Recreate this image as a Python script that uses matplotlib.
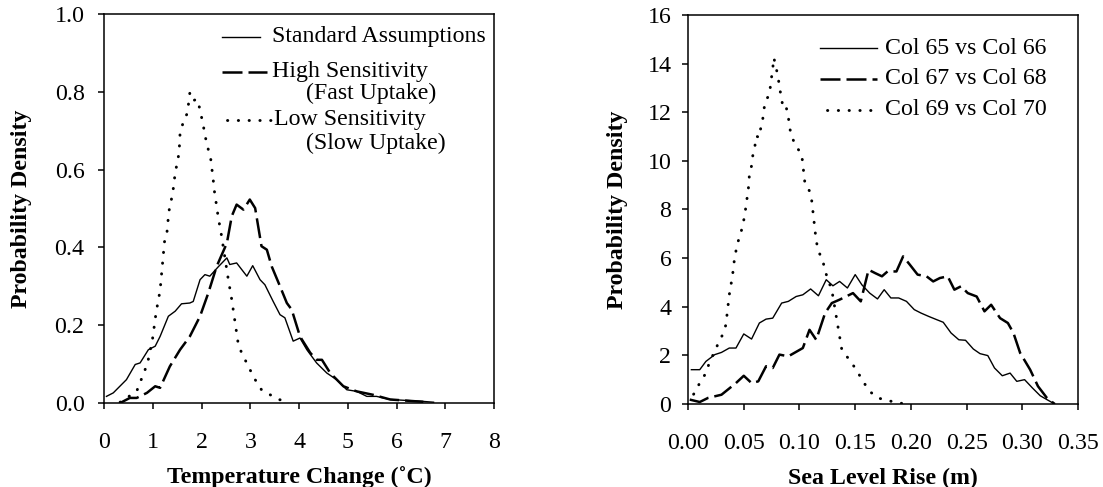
import numpy as np
import matplotlib
matplotlib.use('Agg')
import matplotlib.pyplot as plt

plt.rcParams['font.family'] = ['Liberation Serif', 'DejaVu Serif']

# ---- left panel: temperature change (deg C) ----
std_t = [0.05, 0.19, 0.46, 0.64, 0.74, 0.91, 1.05, 1.15, 1.32, 1.46, 1.59, 1.76, 1.83, 1.97, 2.07,
         2.17, 2.35, 2.52, 2.58, 2.72, 2.93, 3.05, 3.20, 3.30, 3.47, 3.61, 3.71, 3.88, 4.02, 4.16,
         4.36, 4.57, 4.77, 4.98, 5.18, 5.39, 5.59, 5.87, 6.55, 6.76]
std_p = [0.017, 0.026, 0.060, 0.099, 0.103, 0.137, 0.146, 0.171, 0.223, 0.236, 0.255, 0.257, 0.261,
         0.317, 0.330, 0.326, 0.351, 0.373, 0.356, 0.360, 0.326, 0.353, 0.317, 0.304, 0.261, 0.227,
         0.219, 0.159, 0.167, 0.137, 0.103, 0.077, 0.060, 0.034, 0.030, 0.017, 0.017, 0.009, 0.004,
         0.002]

high_t = [0.33, 0.53, 0.67, 0.88, 1.05, 1.15, 1.35, 1.56, 1.76, 1.97, 2.14, 2.31, 2.52, 2.62, 2.72,
          2.86, 2.99, 3.10, 3.23, 3.34, 3.44, 3.61, 3.75, 3.85, 4.02, 4.23, 4.36, 4.47, 4.64, 4.91,
          5.18, 5.52, 5.87, 6.55]
high_p = [0.0, 0.013, 0.013, 0.026, 0.043, 0.039, 0.094, 0.137, 0.171, 0.223, 0.283, 0.351, 0.411,
          0.480, 0.510, 0.497, 0.523, 0.501, 0.403, 0.394, 0.351, 0.300, 0.257, 0.240, 0.171, 0.129,
          0.111, 0.111, 0.077, 0.043, 0.030, 0.021, 0.009, 0.003]

low_t = [0.33, 0.67, 0.75, 0.83, 0.90, 0.99, 1.07, 1.15, 1.24, 1.29, 1.33, 1.41, 1.46, 1.50, 1.54,
         1.56, 1.64, 1.71, 1.76, 1.82, 1.91, 1.97, 2.05, 2.09, 2.14, 2.19, 2.24, 2.26, 2.31, 2.35,
         2.39, 2.55, 2.62, 2.65, 2.76, 2.86, 2.96, 3.10, 3.23, 3.41, 3.58, 3.78]
low_p = [0.002, 0.030, 0.056, 0.081, 0.107, 0.160, 0.234, 0.289, 0.414, 0.437, 0.492, 0.540, 0.591,
         0.617, 0.643, 0.694, 0.728, 0.745, 0.797, 0.777, 0.781, 0.754, 0.704, 0.677, 0.651, 0.626,
         0.574, 0.548, 0.506, 0.471, 0.446, 0.317, 0.266, 0.240, 0.146, 0.120, 0.094, 0.060, 0.034,
         0.021, 0.009, 0.004]

# ---- right panel: sea level rise (m) ----
c65_s = [0.003, 0.0105, 0.016, 0.024, 0.030, 0.037, 0.043, 0.050, 0.057, 0.064, 0.070, 0.076, 0.084,
         0.090, 0.097, 0.103, 0.110, 0.117, 0.124, 0.130, 0.136, 0.143, 0.150, 0.156, 0.163, 0.170,
         0.176, 0.182, 0.189, 0.196, 0.203, 0.209, 0.216, 0.223, 0.229, 0.236, 0.243, 0.249, 0.256,
         0.262, 0.269, 0.275, 0.282, 0.289, 0.295, 0.302, 0.309, 0.316, 0.322, 0.329]
c65_p = [1.41, 1.41, 1.75, 2.03, 2.12, 2.30, 2.30, 2.88, 2.67, 3.33, 3.49, 3.53, 4.15, 4.22, 4.42,
         4.49, 4.73, 4.45, 5.11, 4.86, 5.04, 4.77, 5.32, 4.90, 4.56, 4.32, 4.70, 4.36, 4.36, 4.22,
         3.88, 3.74, 3.60, 3.47, 3.36, 2.92, 2.64, 2.62, 2.26, 2.07, 1.99, 1.48, 1.16, 1.27, 0.93,
         1.00, 0.66, 0.34, 0.18, 0.0]

c67_s = [0.0015, 0.0105, 0.018, 0.030, 0.043, 0.050, 0.057, 0.063, 0.070, 0.076, 0.082, 0.090, 0.103,
         0.109, 0.115, 0.123, 0.129, 0.136, 0.148, 0.155, 0.162, 0.168, 0.174, 0.179, 0.187, 0.193,
         0.199, 0.206, 0.214, 0.220, 0.226, 0.233, 0.239, 0.245, 0.251, 0.259, 0.266, 0.272, 0.280,
         0.287, 0.292, 0.298, 0.307, 0.314, 0.322, 0.329]
c67_p = [0.18, 0.08, 0.25, 0.38, 0.86, 1.16, 0.86, 0.93, 1.55, 1.48, 2.03, 1.96, 2.30, 3.05, 2.64,
         3.74, 4.15, 4.29, 4.56, 4.22, 5.52, 5.38, 5.25, 5.45, 5.45, 6.07, 5.73, 5.32, 5.25, 5.04,
         5.18, 5.25, 4.70, 4.84, 4.56, 4.42, 3.81, 4.08, 3.53, 3.33, 2.92, 2.10, 1.41, 0.73, 0.25, 0.0]

c69_s = [0.005, 0.010, 0.016, 0.019, 0.027, 0.031, 0.034, 0.035, 0.037, 0.040, 0.041, 0.044, 0.047,
         0.049, 0.051, 0.052, 0.054, 0.055, 0.057, 0.058, 0.060, 0.061, 0.064, 0.065, 0.067, 0.068,
         0.070, 0.073, 0.074, 0.076, 0.077, 0.079, 0.081, 0.082, 0.084, 0.085, 0.088, 0.090, 0.091,
         0.093, 0.097, 0.102, 0.103, 0.104, 0.105, 0.109, 0.111, 0.112, 0.114, 0.115, 0.117, 0.121,
         0.123, 0.126, 0.129, 0.132, 0.135, 0.138, 0.145, 0.151, 0.157, 0.163, 0.170, 0.179, 0.188,
         0.199]
c69_p = [0.40, 0.82, 1.27, 1.68, 2.48, 2.85, 3.26, 3.69, 4.49, 5.31, 5.75, 6.57, 6.95, 7.36, 7.77,
         8.18, 8.77, 9.39, 9.80, 10.19, 10.60, 11.02, 10.96, 11.29, 11.70, 12.11, 12.52, 12.70, 13.11,
         13.80, 14.24, 13.83, 13.41, 13.00, 12.59, 12.18, 12.22, 11.81, 11.40, 10.99, 10.60, 10.26,
         9.85, 9.44, 9.03, 8.76, 8.35, 7.94, 7.12, 6.71, 6.29, 5.88, 5.47, 5.06, 4.69, 3.87, 3.05,
         2.23, 1.80, 1.41, 0.93, 0.52, 0.25, 0.15, 0.04, 0.0]

left_labels = ['Standard Assumptions', 'High Sensitivity', 'Low Sensitivity']
left_sub = ['', '(Fast Uptake)', '(Slow Uptake)']
right_labels = ['Col 65 vs Col 66', 'Col 67 vs Col 68', 'Col 69 vs Col 70']

FS = 17.2
solid = dict(color='black', lw=1.0)
dashed = dict(color='black', lw=1.8, linestyle=(0, (8, 2.4)))
dotted = dict(color='black', lw=2.1, linestyle=(0, (0.1, 3.6)), dash_capstyle='round')
styles = [solid, dashed, dotted]

fig = plt.figure(figsize=(11.03, 4.87), dpi=100)
ax1 = fig.add_axes([0.0943, 0.1725, 0.3536, 0.7988])
ax2 = fig.add_axes([0.6238, 0.1705, 0.3536, 0.7988])

ax1.plot(std_t, std_p, **solid)
ax1.plot(high_t, high_p, **dashed)
ax1.plot(low_t, low_p, **dotted)

ax2.plot(c65_s, c65_p, **solid)
ax2.plot(c67_s, c67_p, **dashed)
ax2.plot(c69_s, c69_p, **dotted)

ax1.set_xlim(0, 8)
ax1.set_ylim(0, 1.0)
ax1.set_xticks(range(0, 9))
ax1.set_yticks(np.arange(0, 1.01, 0.2))
ax1.set_yticklabels(['%.1f' % v for v in np.arange(0, 1.01, 0.2)])

ax2.set_xlim(0, 0.35)
ax2.set_ylim(0, 16)
ax2.set_xticks(np.arange(0, 0.351, 0.05))
ax2.set_xticklabels(['%.2f' % v for v in np.arange(0, 0.351, 0.05)])
ax2.set_yticks(range(0, 17, 2))

for ax in (ax1, ax2):
    for sp in ax.spines.values():
        sp.set_linewidth(1.1)
    ax.tick_params(axis='both', direction='out', length=4, width=1.1, labelsize=FS)
    ax.tick_params(axis='x', pad=17)
    ax.set_ylabel('Probability Density', fontsize=FS, fontweight='bold')

ax1.tick_params(axis='y', pad=10)
ax2.tick_params(axis='y', pad=8)

ax1.set_xlabel('Temperature Change (\u02daC)', fontsize=FS, fontweight='bold')
ax2.set_xlabel('Sea Level Rise (m)', fontsize=FS, fontweight='bold')
ax1.xaxis.set_label_coords(0.5, -0.163)
ax2.xaxis.set_label_coords(0.5, -0.163)
ax1.yaxis.set_label_coords(-0.185, 0.5)
ax2.yaxis.set_label_coords(-0.154, 0.5)

# legends laid out by hand (handle sits on the first line of each entry, as in the original)
tr = ax1.transAxes
left_rows = [0.9416, 0.8517, 0.7275]
left_sub_rows = [None, 0.797, 0.668]
left_handle_x = [(0.3026, 0.40), (0.3018, 0.417), (0.3146, 0.430)]
left_text_x = [0.430, 0.430, 0.436]
for i in range(3):
    ax1.plot(left_handle_x[i], [left_rows[i]] * 2, transform=tr, clip_on=False, **styles[i])
    ax1.text(left_text_x[i], left_rows[i], left_labels[i], transform=tr, fontsize=FS,
             va='center', ha='left')
    if left_sub[i]:
        ax1.text(0.519, left_sub_rows[i], left_sub[i], transform=tr, fontsize=FS,
                 va='center', ha='left')

tr = ax2.transAxes
right_rows = [0.915, 0.8355, 0.7566]
right_handle_x = [(0.338, 0.484), (0.338, 0.484), (0.356, 0.484)]
for i in range(3):
    ax2.plot(right_handle_x[i], [right_rows[i]] * 2, transform=tr, clip_on=False, **styles[i])
    ax2.text(0.505, right_rows[i], right_labels[i], transform=tr, fontsize=FS,
             va='center', ha='left')

fig.savefig('out.png', dpi=100)
